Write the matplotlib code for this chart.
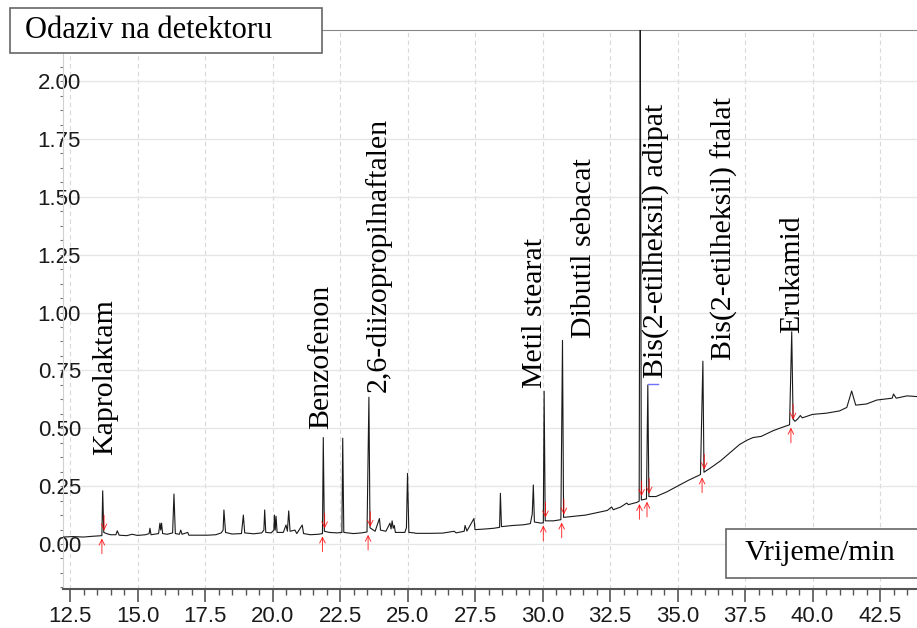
import matplotlib
matplotlib.use("Agg")
import matplotlib.pyplot as plt
from matplotlib.patches import Rectangle
from matplotlib.ticker import MultipleLocator, FormatStrFormatter

# chromatogram trace (retention time in min, detector response)
trace_time = [
    12.24, 12.6, 13.0, 13.3, 13.6, 13.68, 13.71, 13.75, 13.85, 14.0, 14.2, 14.25, 14.32,
    14.6, 14.8, 15.0, 15.3, 15.43, 15.46, 15.5, 15.78, 15.83, 15.86, 15.89, 15.93, 16.1,
    16.3, 16.35, 16.4, 16.55, 16.6, 16.65, 16.86, 16.9, 17.2, 17.6, 17.9, 18.1, 18.17,
    18.2, 18.26, 18.5, 18.85, 18.92, 18.97, 19.3, 19.6, 19.68, 19.71, 19.75, 19.95,
    20.05, 20.07, 20.1, 20.13, 20.17, 20.4, 20.5, 20.55, 20.6, 20.65, 20.83, 20.9, 21.1,
    21.15, 21.4, 21.7, 21.85, 21.88, 21.92, 22.1, 22.4, 22.57, 22.6, 22.64, 23.0, 23.3,
    23.5, 23.57, 23.61, 23.8, 23.96, 24.0, 24.2, 24.35, 24.39, 24.43, 24.47, 24.51,
    24.55, 24.9, 24.96, 25.0, 25.05, 25.25, 25.3, 25.8, 26.3, 26.73, 26.8, 27.1, 27.13,
    27.2, 27.46, 27.5, 27.9, 28.2, 28.41, 28.44, 28.48, 28.9, 29.3, 29.55, 29.62, 29.66,
    29.7, 29.95, 30.03, 30.06, 30.1, 30.4, 30.68, 30.74, 30.78, 31.2, 31.6, 32.0, 32.4,
    32.56, 32.62, 32.9, 33.12, 33.18, 33.5, 33.58, 33.62, 33.66, 33.85, 33.9, 33.94,
    34.2, 34.6, 35.0, 35.4, 35.85, 35.94, 35.98, 36.3, 36.6, 37.0, 37.3, 37.6, 37.8,
    38.1, 38.55, 38.9, 39.15, 39.23, 39.28, 39.35, 39.45, 39.55, 39.62, 40.0, 40.5,
    41.0, 41.27, 41.45, 41.6, 42.0, 42.38, 42.6, 42.95, 43.0, 43.1, 43.5, 43.87,
]
trace_value = [
    0.030, 0.032, 0.030, 0.033, 0.035, 0.036, 0.230, 0.050, 0.045, 0.040, 0.040, 0.057, 0.038,
    0.036, 0.042, 0.037, 0.040, 0.045, 0.068, 0.040, 0.045, 0.090, 0.060, 0.090, 0.045, 0.042,
    0.048, 0.216, 0.045, 0.042, 0.060, 0.042, 0.050, 0.038, 0.038, 0.038, 0.040, 0.048, 0.060,
    0.147, 0.050, 0.043, 0.045, 0.125, 0.048, 0.044, 0.048, 0.060, 0.147, 0.050, 0.048,
    0.060, 0.125, 0.060, 0.120, 0.050, 0.050, 0.082, 0.055, 0.143, 0.055, 0.060, 0.045, 0.082,
    0.045, 0.040, 0.042, 0.045, 0.460, 0.055, 0.050, 0.048, 0.050, 0.457, 0.050, 0.045, 0.048,
    0.052, 0.634, 0.070, 0.055, 0.110, 0.060, 0.055, 0.090, 0.065, 0.100, 0.068, 0.080,
    0.050, 0.050, 0.070, 0.305, 0.050, 0.048, 0.046, 0.046, 0.047, 0.055, 0.048, 0.055, 0.080,
    0.056, 0.110, 0.062, 0.065, 0.068, 0.072, 0.219, 0.075, 0.080, 0.083, 0.088, 0.130, 0.255,
    0.095, 0.090, 0.092, 0.660, 0.100, 0.100, 0.105, 0.880, 0.115, 0.120, 0.125, 0.135, 0.145,
    0.160, 0.148, 0.160, 0.177, 0.170, 0.180, 0.185, 2.400, 0.190, 0.195, 0.687, 0.205,
    0.205, 0.225, 0.250, 0.275, 0.300, 0.790, 0.310, 0.335, 0.360, 0.400, 0.430, 0.450, 0.460,
    0.465, 0.490, 0.505, 0.515, 0.917, 0.540, 0.530, 0.540, 0.555, 0.545, 0.560, 0.565,
    0.575, 0.590, 0.661, 0.600, 0.605, 0.622, 0.625, 0.630, 0.648, 0.630, 0.640, 0.637,
]

# identified compounds: label text, label anchor (time, response) and peak base for the red markers
compound_names = [
    "Kaprolaktam", "Benzofenon", "2,6-diizopropilnaftalen", "Metil stearat",
    "Dibutil sebacat", "Bis(2-etilheksil) adipat", "Bis(2-etilheksil) ftalat", "Erukamid",
]
label_time = [13.80, 21.80, 23.91, 29.72, 31.55, 34.17, 36.72, 39.24]
label_value = [0.385, 0.497, 0.657, 0.674, 0.890, 0.717, 0.795, 0.912]
peak_time = [13.71, 21.88, 23.57, 30.06, 30.74, 33.62, 33.90, 35.94, 39.23]
peak_base = [0.036, 0.045, 0.052, 0.092, 0.105, 0.185, 0.195, 0.300, 0.515]

x_major = 2.5
y_major = 0.25


def draw_markers(ax):
    """Red integration arrows at the start/end of the labelled peaks."""
    for t, b in zip(peak_time, peak_base):
        ax.annotate("", xy=(t - 0.03, b), xytext=(t - 0.03, b - 0.09),
                    arrowprops=dict(arrowstyle="->", color="red", lw=0.7, alpha=0.8))
        ax.annotate("", xy=(t + 0.05, b + 0.01), xytext=(t + 0.05, b + 0.1),
                    arrowprops=dict(arrowstyle="->", color="red", lw=0.7, alpha=0.8))


def plot_chromatogram():
    fig = plt.figure(figsize=(9.17, 6.28), dpi=100)
    ax = fig.add_axes([63 / 917, 1 - 589 / 628, 854 / 917, 559 / 628])

    ax.plot(trace_time, trace_value, color="#1a1a1a", lw=0.8, zorder=3)
    draw_markers(ax)

    # small blue line on top of the adipat shoulder peak
    ax.plot([33.92, 34.27], [0.69, 0.69], color="#7070ff", lw=1.0, zorder=3)

    for name, t, v in zip(compound_names, label_time, label_value):
        ax.text(t, v, name, rotation=90, ha="center", va="bottom",
                family="Liberation Serif", fontsize=21.5, color="black", zorder=4)

    ax.set_xlim(12.24, 43.87)
    ax.set_ylim(-0.1945, 2.221)

    ax.xaxis.set_major_locator(MultipleLocator(x_major))
    ax.xaxis.set_minor_locator(MultipleLocator(0.5))
    ax.yaxis.set_major_locator(MultipleLocator(y_major))
    ax.yaxis.set_minor_locator(MultipleLocator(0.0625))
    ax.xaxis.set_major_formatter(FormatStrFormatter("%.1f"))
    ax.yaxis.set_major_formatter(FormatStrFormatter("%.2f"))

    ax.grid(axis="x", which="major", color="#d8d8d8", lw=0.8, linestyle=(0, (4, 3)))
    ax.grid(axis="y", which="major", color="#e6e6e6", lw=1.0)
    ax.set_axisbelow(True)

    ax.tick_params(axis="x", which="major", length=9, width=1.2, color="#555555",
                   pad=3, labelsize=16, labelcolor="#1a1a1a")
    ax.tick_params(axis="x", which="minor", length=4.5, width=1.0, color="#555555")
    ax.tick_params(axis="y", which="both", length=2, width=0.8, color="#777777",
                   pad=-15, labelsize=16, labelcolor="#1a1a1a")
    for lbl in ax.get_xticklabels() + ax.get_yticklabels():
        lbl.set_family("Liberation Sans")

    ax.spines["right"].set_visible(False)
    ax.spines["left"].set_color("#d0d0d0")
    ax.spines["top"].set_color("#888888")
    ax.spines["bottom"].set_color("#555555")
    ax.spines["bottom"].set_linewidth(1.5)

    # boxed axis titles
    fig.patches.append(Rectangle((10 / 917, 1 - 53 / 628), 312 / 917, 45 / 628,
                                 transform=fig.transFigure, facecolor="white",
                                 edgecolor="#666666", lw=1.2, zorder=5))
    fig.text(25 / 917, 1 - 31 / 628, "Odaziv na detektoru", family="Liberation Serif",
             fontsize=22, va="center", ha="left", zorder=6)
    fig.patches.append(Rectangle((726 / 917, 1 - 578 / 628), 200 / 917, 49 / 628,
                                 transform=fig.transFigure, facecolor="white",
                                 edgecolor="#666666", lw=1.2, zorder=5))
    fig.text(745 / 917, 1 - 553 / 628, "Vrijeme/min", family="Liberation Serif",
             fontsize=21.5, va="center", ha="left", zorder=6)

    fig.savefig("out.png", dpi=100)


def main():
    plot_chromatogram()


if __name__ == "__main__":
    main()
